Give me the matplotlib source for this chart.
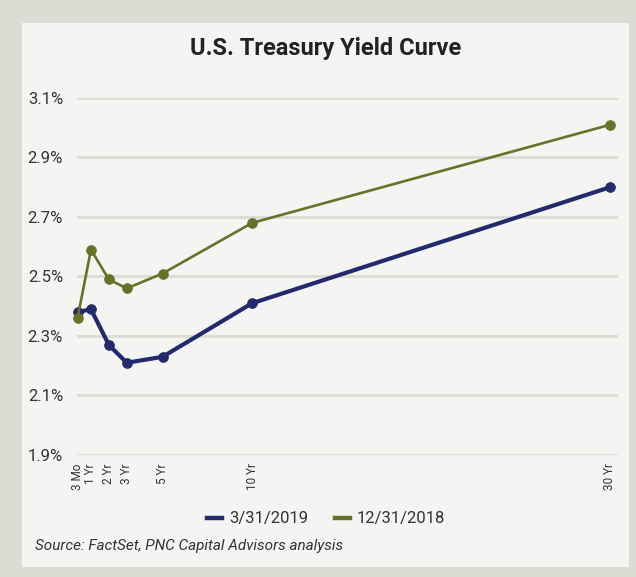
import matplotlib
matplotlib.use("Agg")
import matplotlib.pyplot as plt
from matplotlib.lines import Line2D
from matplotlib.patches import Rectangle

plt.rcParams['font.family'] = ['Roboto', 'DejaVu Sans']

maturities = [0.25, 1, 2, 3, 5, 10, 30]
tick_labels = ["3 Mo", "1 Yr", "2 Yr", "3 Yr", "5 Yr", "10 Yr", "30 Yr"]
yield_2019 = [2.38, 2.39, 2.27, 2.21, 2.23, 2.41, 2.80]
yield_2018 = [2.36, 2.59, 2.49, 2.46, 2.51, 2.68, 3.01]
y_ticks = [1.9, 2.1, 2.3, 2.5, 2.7, 2.9, 3.1]

BLUE = "#222a6c"
GREEN = "#667228"
GRID = "#dcdcd4"
TEXT = "#333333"

fig = plt.figure(figsize=(6.36, 5.77), dpi=100)
fig.patch.set_facecolor("#dcdcd4")
panel = Rectangle((22/636, 1-567/577), (629-22)/636, (567-23)/577,
                  transform=fig.transFigure, facecolor="#f4f4f2", edgecolor="none", zorder=-10)
fig.patches.append(panel)

ax = fig.add_axes([77/636, 1-455/577, (618-77)/636, (455-98)/577])
ax.set_facecolor("none")
ax.set_xlim(0.22, 30.45)
ax.set_ylim(1.9, 3.1)
for s in ax.spines.values():
    s.set_visible(False)
ax.set_yticks(y_ticks)
ax.set_yticklabels([f"{v:.1f}%" for v in y_ticks], fontsize=12, color=TEXT)
ax.yaxis.grid(True, color=GRID, linewidth=2)
ax.set_axisbelow(True)
ax.tick_params(axis='y', length=0, pad=10)
ax.set_xticks(maturities)
ax.set_xticklabels(tick_labels, rotation=90, fontsize=8.5, color=TEXT)
ax.tick_params(axis='x', length=0, pad=6)

ax.plot(maturities, yield_2019, color=BLUE, linewidth=3.0, marker='o', markersize=7,
        markeredgewidth=0.6, clip_on=False, zorder=3)
ax.plot(maturities, yield_2018, color=GREEN, linewidth=1.9, marker='o', markersize=7,
        markeredgewidth=0.6, clip_on=False, zorder=4)

fig.text(326/636, 1-48/577, "U.S. Treasury Yield Curve", ha='center', va='center',
         fontsize=17, fontweight='bold', color="#222222")

handles = [Line2D([], [], color=BLUE, linewidth=3.2),
           Line2D([], [], color=GREEN, linewidth=3.2)]
fig.legend(handles, ["3/31/2019", "12/31/2018"], loc='center', bbox_to_anchor=(326/636, 1-519/577),
           ncol=2, frameon=False, fontsize=12, handlelength=0.9, handletextpad=0.4,
           columnspacing=1.6, labelcolor=TEXT)

fig.text(35/636, 1-546/577, "Source: FactSet, PNC Capital Advisors analysis", ha='left', va='center',
         fontsize=11, style='italic', color=TEXT)

fig.savefig("out.png", dpi=100, facecolor=fig.get_facecolor())
